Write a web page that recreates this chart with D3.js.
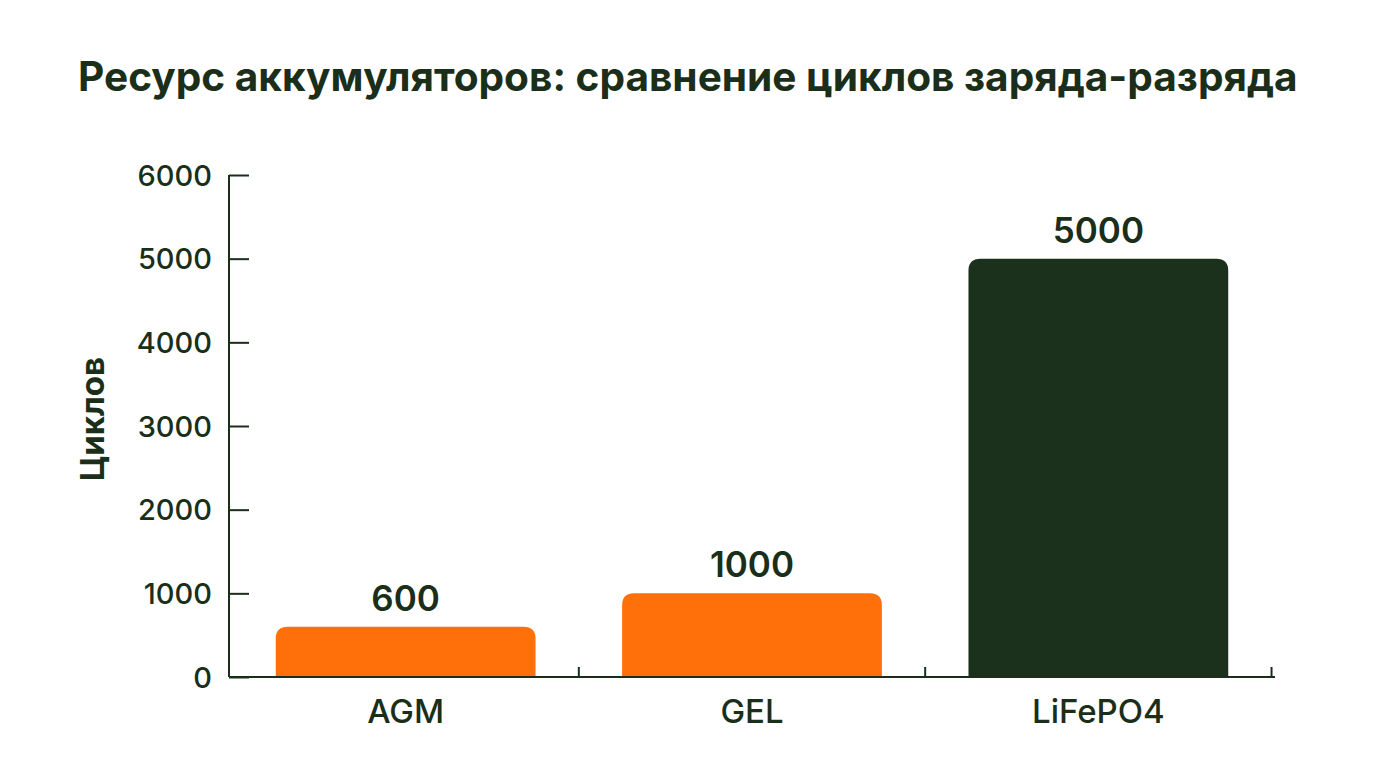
<!DOCTYPE html>
<html>
<head>
    <meta charset="utf-8" />
    <title>Ресурс аккумуляторов</title>
    <script src="https://d3js.org/d3.v7.min.js"></script>
    <style>
        body { margin: 0; background: #ffffff; }
        text { font-family: Inter, "Open Sans", sans-serif; fill: #1a2e1a; }
        .axis path, .axis line { stroke: #1a2e1a; stroke-width: 2; }
    </style>
</head>
<body>
<div id="chart"></div>
<script>
    var titleText = "Ресурс аккумуляторов: сравнение циклов заряда-разряда";
    var yLabel = "Циклов";
    var categories = ["AGM", "GEL", "LiFePO4"];
    var cycles = [600, 1000, 5000];
    var barColors = ["#ff6f0a", "#ff6f0a", "#1b311b"];
    var yTicks = [0, 1000, 2000, 3000, 4000, 5000, 6000];

    var W = 1376, H = 768;
    var plotLeft = 229, plotRight = 1275, plotTop = 175, plotBottom = 677;

    var svg = d3.select("#chart").append("svg")
        .attr("width", W)
        .attr("height", H);

    var x = d3.scaleBand()
        .domain(categories)
        .range([plotLeft, plotRight])
        .paddingInner(0.25)
        .paddingOuter(0.135);

    var y = d3.scaleLinear()
        .domain([0, 6000])
        .range([plotBottom, plotTop]);

    // title
    var title = svg.append("text")
        .attr("x", 78)
        .attr("y", 91)
        .style("font-size", "37px")
        .style("font-weight", 700)
        .text(titleText);
    var tw = title.node().getComputedTextLength();
    title.style("font-size", (37 * 1220 / tw).toFixed(1) + "px");

    // y axis, ticks point inward
    var yAxis = svg.append("g")
        .attr("class", "axis")
        .attr("transform", "translate(" + plotLeft + ",0)")
        .call(d3.axisRight(y).tickValues(yTicks).tickSize(20).tickFormat(d3.format("d")));
    yAxis.select(".domain").attr("d", "M0," + plotTop + "V" + plotBottom);
    yAxis.selectAll("text")
        .attr("x", -17)
        .attr("dy", "0.35em")
        .attr("text-anchor", "end")
        .style("font-size", "29px")
        .style("font-weight", 500);

    // bars with rounded tops
    function barPath(d, i) {
        var x0 = x(categories[i]), w = x.bandwidth();
        var y0 = y(d), r = 12;
        return "M" + x0 + "," + plotBottom +
            "V" + (y0 + r) +
            "Q" + x0 + "," + y0 + " " + (x0 + r) + "," + y0 +
            "H" + (x0 + w - r) +
            "Q" + (x0 + w) + "," + y0 + " " + (x0 + w) + "," + (y0 + r) +
            "V" + plotBottom + "Z";
    }
    svg.selectAll(".bar")
        .data(cycles)
        .enter().append("path")
        .attr("class", "bar")
        .attr("d", barPath)
        .attr("fill", function(d, i) { return barColors[i]; });

    // value labels
    svg.selectAll(".val")
        .data(cycles)
        .enter().append("text")
        .attr("class", "val")
        .attr("x", function(d, i) { return x(categories[i]) + x.bandwidth() / 2; })
        .attr("y", function(d) { return y(d) - 16; })
        .attr("text-anchor", "middle")
        .style("font-size", "35px")
        .style("font-weight", 600)
        .text(function(d) { return d; });

    // x axis: ticks between bands pointing up
    var xg = svg.append("g").attr("class", "axis");
    xg.append("line")
        .attr("x1", plotLeft).attr("x2", plotRight)
        .attr("y1", plotBottom).attr("y2", plotBottom);
    xg.selectAll(".xtick")
        .data(categories)
        .enter().append("line")
        .attr("class", "xtick")
        .attr("x1", function(d) { return x(d) + x.bandwidth() + x.step() * x.paddingInner() / 2; })
        .attr("x2", function(d) { return x(d) + x.bandwidth() + x.step() * x.paddingInner() / 2; })
        .attr("y1", plotBottom)
        .attr("y2", plotBottom - 10);
    xg.selectAll(".xlab")
        .data(categories)
        .enter().append("text")
        .attr("class", "xlab")
        .attr("x", function(d) { return x(d) + x.bandwidth() / 2; })
        .attr("y", 723)
        .attr("text-anchor", "middle")
        .style("font-size", "33px")
        .style("font-weight", 500)
        .text(function(d) { return d; });

    // y axis title
    svg.append("text")
        .attr("transform", "translate(104,419) rotate(-90)")
        .attr("text-anchor", "middle")
        .style("font-size", "33px")
        .style("font-weight", 700)
        .text(yLabel);
</script>
</body>
</html>
